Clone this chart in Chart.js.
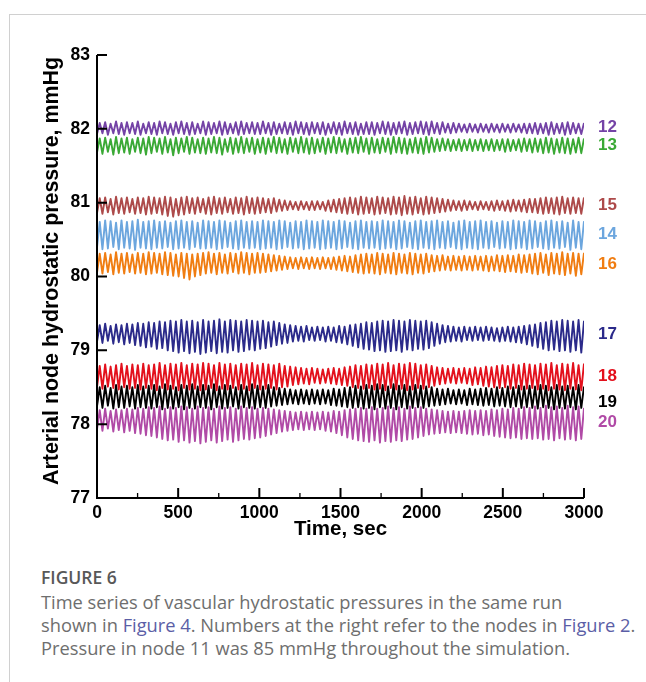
<!DOCTYPE html>
<html>
<head>
<meta charset="utf-8">
<script src="https://cdn.jsdelivr.net/npm/chart.js@4"></script>
<style>
  html, body { margin: 0; padding: 0; background: #fff; }
  body { width: 646px; height: 682px; position: relative; overflow: hidden; }
  .frame { position: absolute; left: 9px; top: 14px; width: 700px; height: 700px;
           border-top: 1px solid #d0d0d0; border-left: 1px solid #d0d0d0; }
  #chartBox { position: absolute; left: 0; top: 0; width: 646px; height: 545px; }
  .fig-label { position: absolute; left: 41px; top: 565px; font-family: "Open Sans", sans-serif;
               font-size: 17.5px; font-weight: 600; color: #585858; }
  .caption { position: absolute; left: 41px; top: 590px; width: 605px; font-family: "Open Sans", sans-serif;
             font-size: 18.3px; line-height: 23px; color: #6e6e6e; white-space: nowrap; }
  .caption a { color: #5b5ea6; text-decoration: none; }
</style>
</head>
<body>
<div class="frame"></div>
<div id="chartBox"><canvas id="pressureChart"></canvas></div>
<div class="fig-label">FIGURE 6</div>
<div class="caption">Time series of vascular hydrostatic pressures in the same run<br>shown in <a>Figure 4</a>. Numbers at the right refer to the nodes in <a>Figure 2</a>.<br>Pressure in node 11 was 85 mmHg throughout the simulation.</div>
<script>
// Axis ticks
const timeTicks = [0, 500, 1000, 1500, 2000, 2500, 3000];
const timeMinorTicks = [250, 750, 1250, 1750, 2250, 2750];
const pressureTicks = [77, 78, 79, 80, 81, 82, 83];

// Node labels on the right, with the pressure they sit at
const nodeNames = ['12', '13', '15', '14', '16', '17', '18', '19', '20'];
const nodeColors = ['#7443a6', '#3aa935', '#ad4a4a', '#6ca6de', '#f07d12', '#2b2a8a', '#e3101c', '#000000', '#b04aa6'];
const nodeLabelY = [82.02, 81.78, 80.97, 80.57, 80.17, 79.22, 78.65, 78.29, 78.02];

// One high and one low per oscillation cycle (90 cycles over 3000 s)
const cycleSec = 3000 / 89.5;

const node12High = [
  82.08, 82.09, 82.07, 82.10, 82.08, 82.09, 82.08, 82.10, 82.07, 82.09,
  82.08, 82.10, 82.09, 82.07, 82.09, 82.10, 82.08, 82.09, 82.07, 82.10,
  82.09, 82.08, 82.10, 82.09, 82.07, 82.09, 82.10, 82.08, 82.09, 82.08,
  82.10, 82.08, 82.09, 82.07, 82.09, 82.08, 82.10, 82.09, 82.08, 82.09,
  82.08, 82.09, 82.07, 82.09, 82.08, 82.10, 82.08, 82.09, 82.07, 82.09,
  82.09, 82.08, 82.10, 82.09, 82.08, 82.09, 82.10, 82.08, 82.09, 82.10,
  82.09, 82.10, 82.08, 82.09, 82.07, 82.08, 82.07, 82.06, 82.07, 82.06,
  82.07, 82.06, 82.07, 82.06, 82.07, 82.06, 82.07, 82.06, 82.07, 82.07,
  82.08, 82.07, 82.08, 82.09, 82.07, 82.08, 82.09, 82.08, 82.07, 82.08];
const node12Low = [
  81.93, 81.94, 81.92, 81.94, 81.93, 81.92, 81.94, 81.93, 81.92, 81.94,
  81.93, 81.92, 81.94, 81.93, 81.92, 81.94, 81.93, 81.92, 81.93, 81.94,
  81.92, 81.93, 81.94, 81.92, 81.93, 81.94, 81.92, 81.93, 81.94, 81.93,
  81.93, 81.94, 81.92, 81.93, 81.94, 81.93, 81.92, 81.94, 81.93, 81.92,
  81.94, 81.93, 81.92, 81.94, 81.93, 81.92, 81.94, 81.93, 81.92, 81.93,
  81.93, 81.92, 81.94, 81.93, 81.92, 81.93, 81.94, 81.92, 81.93, 81.94,
  81.93, 81.92, 81.94, 81.93, 81.95, 81.94, 81.95, 81.96, 81.95, 81.96,
  81.95, 81.96, 81.95, 81.96, 81.95, 81.96, 81.95, 81.96, 81.95, 81.94,
  81.94, 81.93, 81.94, 81.92, 81.93, 81.94, 81.92, 81.93, 81.94, 81.93];

const node13High = [
  81.87, 81.88, 81.86, 81.89, 81.87, 81.88, 81.86, 81.88, 81.87, 81.89,
  81.88, 81.87, 81.89, 81.86, 81.88, 81.87, 81.89, 81.88, 81.86, 81.88,
  81.87, 81.89, 81.88, 81.86, 81.88, 81.87, 81.89, 81.87, 81.88, 81.86,
  81.88, 81.87, 81.89, 81.88, 81.86, 81.88, 81.87, 81.89, 81.87, 81.88,
  81.86, 81.88, 81.87, 81.89, 81.88, 81.86, 81.87, 81.88, 81.89, 81.87,
  81.88, 81.86, 81.88, 81.87, 81.89, 81.88, 81.87, 81.86, 81.88, 81.87,
  81.89, 81.88, 81.86, 81.87, 81.86, 81.85, 81.86, 81.85, 81.86, 81.85,
  81.86, 81.85, 81.86, 81.85, 81.86, 81.86, 81.85, 81.86, 81.87, 81.86,
  81.87, 81.86, 81.88, 81.87, 81.86, 81.88, 81.87, 81.86, 81.88, 81.87];
const node13Low = [
  81.68, 81.66, 81.69, 81.65, 81.67, 81.68, 81.66, 81.69, 81.67, 81.65,
  81.67, 81.69, 81.66, 81.68, 81.64, 81.67, 81.69, 81.66, 81.68, 81.67,
  81.66, 81.68, 81.67, 81.65, 81.69, 81.66, 81.68, 81.67, 81.69, 81.66,
  81.68, 81.66, 81.69, 81.67, 81.68, 81.66, 81.69, 81.67, 81.68, 81.66,
  81.67, 81.69, 81.66, 81.68, 81.67, 81.69, 81.66, 81.68, 81.67, 81.69,
  81.66, 81.68, 81.67, 81.69, 81.66, 81.68, 81.67, 81.66, 81.68, 81.67,
  81.66, 81.68, 81.69, 81.70, 81.71, 81.70, 81.71, 81.70, 81.71, 81.70,
  81.71, 81.70, 81.71, 81.70, 81.71, 81.69, 81.70, 81.71, 81.69, 81.70,
  81.68, 81.69, 81.67, 81.68, 81.66, 81.68, 81.67, 81.66, 81.68, 81.67];

const node15High = [
  81.06, 81.07, 81.05, 81.08, 81.06, 81.07, 81.05, 81.07, 81.06, 81.08,
  81.07, 81.06, 81.08, 81.07, 81.05, 81.07, 81.08, 81.06, 81.07, 81.05,
  81.07, 81.08, 81.06, 81.07, 81.05, 81.07, 81.06, 81.08, 81.06, 81.07,
  81.06, 81.05, 81.06, 81.04, 81.03, 81.02, 81.01, 81.02, 81.01, 81.02,
  81.02, 81.01, 81.03, 81.04, 81.05, 81.06, 81.07, 81.06, 81.08, 81.07,
  81.06, 81.08, 81.07, 81.06, 81.08, 81.07, 81.09, 81.07, 81.08, 81.06,
  81.08, 81.07, 81.06, 81.05, 81.04, 81.03, 81.02, 81.03, 81.02, 81.01,
  81.02, 81.01, 81.02, 81.03, 81.02, 81.03, 81.04, 81.03, 81.04, 81.05,
  81.05, 81.06, 81.07, 81.06, 81.07, 81.08, 81.06, 81.07, 81.06, 81.07];
const node15Low = [
  80.86, 80.85, 80.87, 80.84, 80.86, 80.85, 80.87, 80.85, 80.86, 80.84,
  80.85, 80.86, 80.84, 80.82, 80.81, 80.83, 80.84, 80.86, 80.85, 80.87,
  80.85, 80.84, 80.86, 80.85, 80.87, 80.85, 80.86, 80.84, 80.86, 80.85,
  80.86, 80.87, 80.86, 80.88, 80.89, 80.90, 80.91, 80.90, 80.91, 80.90,
  80.90, 80.91, 80.89, 80.88, 80.87, 80.86, 80.85, 80.86, 80.84, 80.85,
  80.86, 80.84, 80.85, 80.86, 80.84, 80.85, 80.83, 80.85, 80.84, 80.86,
  80.84, 80.85, 80.86, 80.87, 80.88, 80.89, 80.90, 80.89, 80.90, 80.91,
  80.90, 80.91, 80.90, 80.89, 80.90, 80.89, 80.88, 80.89, 80.88, 80.87,
  80.87, 80.86, 80.85, 80.86, 80.85, 80.84, 80.86, 80.85, 80.86, 80.85];

const node14High = [
  80.74, 80.76, 80.75, 80.73, 80.76, 80.74, 80.75, 80.77, 80.74, 80.75,
  80.76, 80.74, 80.75, 80.73, 80.75, 80.76, 80.74, 80.75, 80.73, 80.76,
  80.75, 80.74, 80.76, 80.75, 80.73, 80.75, 80.76, 80.74, 80.75, 80.74,
  80.76, 80.75, 80.74, 80.76, 80.75, 80.73, 80.75, 80.74, 80.76, 80.75,
  80.74, 80.76, 80.75, 80.74, 80.76, 80.75, 80.73, 80.75, 80.76, 80.74,
  80.75, 80.74, 80.76, 80.75, 80.74, 80.76, 80.75, 80.73, 80.75, 80.76,
  80.74, 80.75, 80.76, 80.74, 80.75, 80.73, 80.75, 80.76, 80.74, 80.75,
  80.76, 80.74, 80.75, 80.73, 80.75, 80.74, 80.76, 80.75, 80.74, 80.76,
  80.75, 80.73, 80.75, 80.76, 80.74, 80.75, 80.73, 80.76, 80.74, 80.75];
const node14Low = [
  80.39, 80.37, 80.38, 80.40, 80.37, 80.39, 80.38, 80.36, 80.39, 80.38,
  80.37, 80.39, 80.38, 80.40, 80.37, 80.38, 80.39, 80.37, 80.40, 80.38,
  80.38, 80.39, 80.37, 80.38, 80.40, 80.38, 80.37, 80.39, 80.38, 80.39,
  80.37, 80.38, 80.39, 80.37, 80.38, 80.40, 80.38, 80.39, 80.37, 80.38,
  80.39, 80.37, 80.38, 80.39, 80.37, 80.38, 80.40, 80.38, 80.37, 80.39,
  80.38, 80.39, 80.37, 80.38, 80.39, 80.37, 80.38, 80.40, 80.38, 80.37,
  80.39, 80.38, 80.37, 80.39, 80.38, 80.40, 80.38, 80.37, 80.39, 80.38,
  80.37, 80.39, 80.38, 80.40, 80.38, 80.39, 80.37, 80.38, 80.39, 80.37,
  80.38, 80.40, 80.38, 80.37, 80.39, 80.38, 80.40, 80.36, 80.39, 80.37];

const node16High = [
  80.31, 80.32, 80.30, 80.33, 80.31, 80.32, 80.30, 80.32, 80.31, 80.33,
  80.32, 80.31, 80.33, 80.32, 80.30, 80.32, 80.31, 80.30, 80.31, 80.32,
  80.33, 80.31, 80.32, 80.30, 80.32, 80.31, 80.33, 80.32, 80.31, 80.32,
  80.31, 80.30, 80.29, 80.28, 80.27, 80.26, 80.25, 80.26, 80.25, 80.26,
  80.25, 80.26, 80.25, 80.26, 80.27, 80.28, 80.27, 80.29, 80.30, 80.31,
  80.30, 80.32, 80.31, 80.30, 80.32, 80.31, 80.30, 80.32, 80.31, 80.30,
  80.31, 80.29, 80.28, 80.29, 80.27, 80.28, 80.27, 80.28, 80.27, 80.28,
  80.27, 80.28, 80.27, 80.29, 80.28, 80.29, 80.28, 80.30, 80.29, 80.30,
  80.31, 80.32, 80.30, 80.32, 80.31, 80.33, 80.31, 80.32, 80.31, 80.32];
const node16Low = [
  80.05, 80.04, 80.06, 80.03, 80.05, 80.04, 80.06, 80.04, 80.05, 80.03,
  80.04, 80.05, 80.03, 80.02, 80.01, 80.00, 79.98, 79.96, 80.00, 80.02,
  80.04, 80.05, 80.03, 80.05, 80.04, 80.06, 80.04, 80.05, 80.03, 80.05,
  80.05, 80.06, 80.07, 80.08, 80.09, 80.10, 80.11, 80.10, 80.11, 80.10,
  80.11, 80.10, 80.11, 80.10, 80.09, 80.08, 80.07, 80.06, 80.05, 80.04,
  80.05, 80.04, 80.03, 80.05, 80.04, 80.03, 80.05, 80.04, 80.03, 80.05,
  80.04, 80.06, 80.07, 80.08, 80.09, 80.08, 80.09, 80.08, 80.09, 80.08,
  80.09, 80.08, 80.07, 80.08, 80.07, 80.06, 80.07, 80.06, 80.05, 80.06,
  80.04, 80.03, 80.05, 80.02, 80.04, 80.03, 80.02, 80.04, 80.01, 80.03];

const node17High = [
  79.34, 79.36, 79.33, 79.35, 79.34, 79.36, 79.35, 79.37, 79.36, 79.38,
  79.37, 79.39, 79.38, 79.40, 79.39, 79.41, 79.39, 79.40, 79.38, 79.41,
  79.39, 79.40, 79.42, 79.39, 79.41, 79.40, 79.39, 79.41, 79.40, 79.39,
  79.40, 79.38, 79.39, 79.37, 79.35, 79.34, 79.33, 79.32, 79.33, 79.31,
  79.32, 79.31, 79.32, 79.31, 79.33, 79.32, 79.34, 79.35, 79.36, 79.38,
  79.37, 79.39, 79.40, 79.39, 79.41, 79.40, 79.39, 79.41, 79.40, 79.39,
  79.40, 79.38, 79.36, 79.34, 79.33, 79.32, 79.31, 79.32, 79.31, 79.32,
  79.31, 79.32, 79.31, 79.30, 79.31, 79.32, 79.31, 79.32, 79.33, 79.34,
  79.35, 79.37, 79.38, 79.40, 79.39, 79.41, 79.40, 79.39, 79.41, 79.40];
const node17Low = [
  79.12, 79.10, 79.13, 79.09, 79.11, 79.08, 79.10, 79.07, 79.06, 79.04,
  79.05, 79.02, 79.03, 79.00, 78.99, 78.97, 78.99, 78.96, 78.98, 78.95,
  78.97, 78.99, 78.96, 78.98, 78.97, 79.00, 78.98, 78.99, 79.01, 79.00,
  79.02, 79.03, 79.05, 79.07, 79.09, 79.10, 79.12, 79.13, 79.12, 79.14,
  79.13, 79.14, 79.12, 79.13, 79.11, 79.10, 79.08, 79.06, 79.04, 79.02,
  79.01, 78.99, 79.00, 78.98, 78.99, 79.00, 78.98, 79.01, 79.00, 79.02,
  79.01, 79.03, 79.06, 79.09, 79.11, 79.12, 79.13, 79.12, 79.14, 79.13,
  79.14, 79.13, 79.14, 79.13, 79.12, 79.13, 79.12, 79.11, 79.10, 79.08,
  79.06, 79.04, 79.02, 79.00, 79.01, 78.99, 79.00, 78.98, 79.00, 78.97];

const node18High = [
  78.79, 78.81, 78.78, 78.80, 78.82, 78.79, 78.81, 78.80, 78.82, 78.80,
  78.81, 78.83, 78.80, 78.82, 78.81, 78.83, 78.80, 78.82, 78.81, 78.83,
  78.82, 78.80, 78.83, 78.81, 78.82, 78.80, 78.82, 78.81, 78.83, 78.80,
  78.82, 78.81, 78.80, 78.82, 78.79, 78.78, 78.77, 78.76, 78.75, 78.76,
  78.75, 78.74, 78.75, 78.76, 78.75, 78.77, 78.78, 78.80, 78.79, 78.81,
  78.80, 78.82, 78.81, 78.83, 78.80, 78.82, 78.81, 78.83, 78.82, 78.80,
  78.81, 78.79, 78.77, 78.76, 78.75, 78.76, 78.75, 78.76, 78.75, 78.77,
  78.76, 78.78, 78.77, 78.79, 78.80, 78.79, 78.81, 78.80, 78.82, 78.81,
  78.80, 78.82, 78.81, 78.83, 78.80, 78.82, 78.81, 78.83, 78.80, 78.82];
const node18Low = [
  78.50, 78.48, 78.51, 78.49, 78.47, 78.50, 78.48, 78.49, 78.47, 78.49,
  78.48, 78.46, 78.49, 78.47, 78.48, 78.46, 78.49, 78.47, 78.48, 78.46,
  78.47, 78.49, 78.46, 78.48, 78.47, 78.49, 78.47, 78.48, 78.46, 78.49,
  78.47, 78.48, 78.49, 78.47, 78.50, 78.51, 78.53, 78.54, 78.55, 78.54,
  78.56, 78.55, 78.56, 78.55, 78.54, 78.53, 78.52, 78.50, 78.49, 78.48,
  78.49, 78.47, 78.48, 78.46, 78.49, 78.47, 78.48, 78.46, 78.47, 78.49,
  78.48, 78.50, 78.52, 78.54, 78.55, 78.56, 78.55, 78.56, 78.55, 78.53,
  78.54, 78.52, 78.51, 78.50, 78.49, 78.50, 78.48, 78.49, 78.47, 78.48,
  78.49, 78.47, 78.48, 78.46, 78.48, 78.47, 78.46, 78.48, 78.47, 78.46];

const node19High = [
  78.50, 78.52, 78.49, 78.53, 78.51, 78.52, 78.50, 78.53, 78.51, 78.52,
  78.53, 78.51, 78.54, 78.52, 78.50, 78.53, 78.52, 78.54, 78.51, 78.53,
  78.52, 78.54, 78.51, 78.53, 78.52, 78.50, 78.53, 78.51, 78.54, 78.52,
  78.51, 78.53, 78.50, 78.49, 78.48, 78.47, 78.46, 78.47, 78.46, 78.47,
  78.46, 78.47, 78.46, 78.48, 78.47, 78.49, 78.50, 78.52, 78.51, 78.53,
  78.52, 78.54, 78.53, 78.51, 78.54, 78.52, 78.53, 78.51, 78.53, 78.52,
  78.51, 78.50, 78.48, 78.47, 78.48, 78.46, 78.47, 78.46, 78.48, 78.47,
  78.48, 78.49, 78.48, 78.50, 78.49, 78.51, 78.50, 78.52, 78.51, 78.52,
  78.51, 78.53, 78.52, 78.50, 78.53, 78.51, 78.52, 78.50, 78.53, 78.51];
const node19Low = [
  78.24, 78.22, 78.25, 78.21, 78.23, 78.22, 78.24, 78.21, 78.23, 78.22,
  78.21, 78.23, 78.20, 78.22, 78.21, 78.23, 78.20, 78.22, 78.21, 78.23,
  78.22, 78.20, 78.23, 78.21, 78.22, 78.24, 78.21, 78.23, 78.22, 78.21,
  78.23, 78.22, 78.24, 78.25, 78.26, 78.27, 78.28, 78.27, 78.28, 78.27,
  78.28, 78.27, 78.28, 78.26, 78.25, 78.24, 78.23, 78.22, 78.23, 78.21,
  78.22, 78.20, 78.23, 78.21, 78.22, 78.20, 78.23, 78.21, 78.22, 78.23,
  78.22, 78.24, 78.25, 78.26, 78.27, 78.28, 78.27, 78.28, 78.26, 78.27,
  78.26, 78.25, 78.26, 78.24, 78.25, 78.24, 78.23, 78.24, 78.22, 78.23,
  78.22, 78.21, 78.23, 78.22, 78.20, 78.22, 78.21, 78.23, 78.20, 78.22];

const node20High = [
  78.19, 78.21, 78.18, 78.20, 78.19, 78.21, 78.20, 78.22, 78.21, 78.23,
  78.22, 78.24, 78.21, 78.23, 78.22, 78.24, 78.23, 78.21, 78.24, 78.22,
  78.23, 78.21, 78.24, 78.22, 78.23, 78.21, 78.24, 78.22, 78.23, 78.21,
  78.22, 78.21, 78.20, 78.19, 78.18, 78.17, 78.16, 78.17, 78.16, 78.17,
  78.16, 78.17, 78.16, 78.18, 78.17, 78.19, 78.20, 78.21, 78.22, 78.21,
  78.23, 78.21, 78.22, 78.24, 78.22, 78.23, 78.21, 78.24, 78.22, 78.23,
  78.21, 78.20, 78.19, 78.18, 78.17, 78.18, 78.17, 78.18, 78.19, 78.18,
  78.19, 78.18, 78.20, 78.19, 78.21, 78.20, 78.22, 78.21, 78.23, 78.22,
  78.24, 78.22, 78.25, 78.23, 78.24, 78.22, 78.25, 78.23, 78.24, 78.22];
const node20Low = [
  77.93, 77.91, 77.94, 77.90, 77.92, 77.89, 77.91, 77.88, 77.87, 77.85,
  77.84, 77.82, 77.80, 77.78, 77.79, 77.76, 77.78, 77.75, 77.77, 77.74,
  77.76, 77.78, 77.75, 77.77, 77.79, 77.76, 77.78, 77.80, 77.79, 77.81,
  77.82, 77.84, 77.86, 77.88, 77.90, 77.91, 77.92, 77.93, 77.92, 77.93,
  77.92, 77.93, 77.91, 77.90, 77.88, 77.85, 77.82, 77.80, 77.78, 77.77,
  77.76, 77.78, 77.75, 77.77, 77.76, 77.78, 77.77, 77.79, 77.80, 77.82,
  77.84, 77.86, 77.87, 77.88, 77.89, 77.88, 77.89, 77.88, 77.87, 77.86,
  77.87, 77.85, 77.86, 77.84, 77.83, 77.82, 77.81, 77.82, 77.80, 77.81,
  77.80, 77.81, 77.79, 77.80, 77.78, 77.81, 77.79, 77.80, 77.78, 77.80];

const nodeHigh = [node12High, node13High, node15High, node14High, node16High, node17High, node18High, node19High, node20High];
const nodeLow = [node12Low, node13Low, node15Low, node14Low, node16Low, node17Low, node18Low, node19Low, node20Low];

const boldFont = '"Liberation Sans", Arial, sans-serif';

// Turn the per-cycle lows and highs into a zigzag trace
function buildTrace(low, high) {
  const pts = [];
  for (let i = 0; i < low.length; i++) {
    pts.push({ x: i * cycleSec, y: low[i] });
    pts.push({ x: (i + 0.5) * cycleSec, y: high[i] });
  }
  return pts;
}

// Axis lines, inward ticks, axis titles and node numbers
const axesAndLabels = {
  id: 'axesAndLabels',
  afterDraw(chart) {
    const { ctx, chartArea: area, scales: { x, y } } = chart;
    ctx.save();
    ctx.strokeStyle = '#000';
    ctx.lineWidth = 2;
    ctx.beginPath();
    ctx.moveTo(area.left, area.top);
    ctx.lineTo(area.left, area.bottom);
    ctx.lineTo(area.right, area.bottom);
    pressureTicks.forEach(v => {
      const py = y.getPixelForValue(v);
      ctx.moveTo(area.left, py);
      ctx.lineTo(area.left + 10, py);
    });
    timeTicks.forEach(v => {
      const px = x.getPixelForValue(v);
      ctx.moveTo(px, area.bottom);
      ctx.lineTo(px, area.bottom - 10);
    });
    ctx.stroke();
    ctx.lineWidth = 1.3;
    ctx.beginPath();
    timeMinorTicks.forEach(v => {
      const px = x.getPixelForValue(v);
      ctx.moveTo(px, area.bottom);
      ctx.lineTo(px, area.bottom - 5);
    });
    ctx.stroke();

    ctx.fillStyle = '#000';
    ctx.font = 'bold 20.5px ' + boldFont;
    ctx.textAlign = 'center';
    ctx.textBaseline = 'middle';
    ctx.fillText('Time, sec', (area.left + area.right) / 2, 529);
    ctx.save();
    ctx.translate(52, 271);
    ctx.rotate(-Math.PI / 2);
    ctx.font = 'bold 21.4px ' + boldFont;
    ctx.fillText('Arterial node hydrostatic pressure, mmHg', 0, 0);
    ctx.restore();

    ctx.font = 'bold 17px ' + boldFont;
    ctx.textAlign = 'left';
    nodeNames.forEach((name, i) => {
      ctx.fillStyle = nodeColors[i];
      ctx.fillText(name, area.right + 14, y.getPixelForValue(nodeLabelY[i]));
    });
    ctx.restore();
  }
};

const datasets = nodeNames.map((name, i) => ({
  label: 'Node ' + name,
  data: buildTrace(nodeLow[i], nodeHigh[i]),
  borderColor: nodeColors[i],
  borderWidth: 1.9,
  borderJoinStyle: 'round',
  pointRadius: 0,
  tension: 0,
  fill: false
}));

const tickFont = { family: boldFont, size: 17.5, weight: 'bold' };

new Chart(document.getElementById('pressureChart'), {
  type: 'line',
  data: { datasets: datasets },
  options: {
    responsive: true,
    maintainAspectRatio: false,
    animation: false,
    layout: { padding: { left: 0, top: 55, right: 62, bottom: 0 } },
    plugins: { legend: { display: false }, tooltip: { enabled: false } },
    scales: {
      x: {
        type: 'linear',
        min: 0,
        max: 3000,
        grid: { display: false, drawTicks: false },
        border: { display: false },
        ticks: { stepSize: 500, padding: 5, color: '#000', maxRotation: 0, font: tickFont,
                 callback: v => String(v) },
        afterFit(scale) { scale.height = 47; }
      },
      y: {
        type: 'linear',
        min: 77,
        max: 83,
        grid: { display: false, drawTicks: false },
        border: { display: false },
        ticks: { stepSize: 1, padding: 7, color: '#000', font: tickFont,
                 callback: v => String(v) },
        afterFit(scale) { scale.width = 97; }
      }
    }
  },
  plugins: [axesAndLabels]
});
</script>
</body>
</html>
